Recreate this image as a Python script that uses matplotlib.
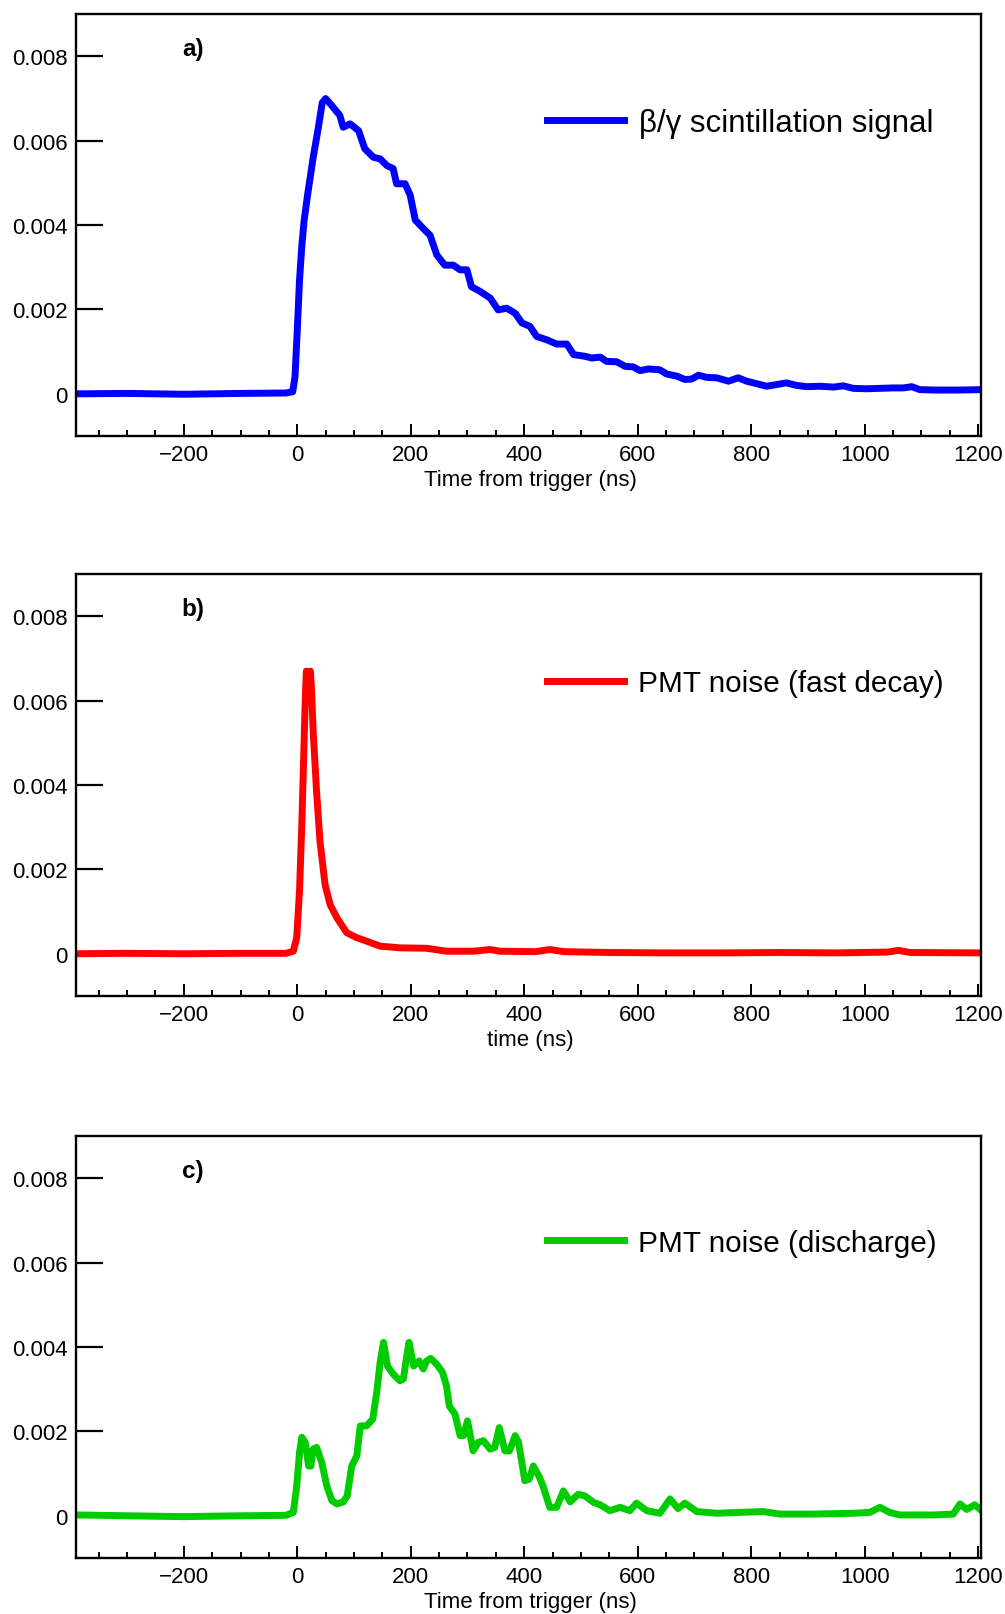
"""Three-panel waveform comparison: scintillation signal vs PMT noise."""

import matplotlib
matplotlib.use("Agg")
import matplotlib.pyplot as plt
from matplotlib.ticker import FuncFormatter, MultipleLocator

plt.rcParams["font.family"] = ["Liberation Sans", "DejaVu Sans"]

# panel a) beta/gamma scintillation signal (time in ns, amplitude)
t_beta = [-390, -300, -200, -100, -20, -8, -4, 0, 4, 8, 12, 18, 28, 37, 44, 50,
          61, 75, 81, 93, 108, 119, 134, 146, 158, 169, 175, 190, 199, 208, 222,
          234, 246, 260, 275, 287, 299, 307, 322, 340, 354, 369, 384, 396, 410,
          422, 440, 457, 475, 487, 507, 519, 534, 545, 563, 578, 592, 604, 619,
          639, 651, 669, 683, 695, 707, 722, 739, 760, 777, 792, 810, 827, 845,
          862, 880, 898, 921, 945, 962, 980, 1003, 1027, 1050, 1068, 1083, 1097,
          1121, 1144, 1168, 1205]
v_beta = [0.0, 0.00001, -0.00001, 0.00001, 0.00002, 0.00005, 0.0004, 0.0015,
          0.0027, 0.0035, 0.0041, 0.0047, 0.0056, 0.0063, 0.0069, 0.0070,
          0.00683, 0.0066, 0.00632, 0.0064, 0.00624, 0.00581, 0.00561, 0.00557,
          0.00541, 0.00534, 0.00498, 0.00498, 0.00471, 0.00412, 0.00392,
          0.00376, 0.00329, 0.00305, 0.00305, 0.00294, 0.00294, 0.00254,
          0.00243, 0.00227, 0.00199, 0.00203, 0.00191, 0.00168, 0.0016,
          0.00136, 0.00128, 0.00118, 0.00118, 0.00093, 0.00089, 0.00085,
          0.00087, 0.00077, 0.00076, 0.00065, 0.00064, 0.00055, 0.00059,
          0.00057, 0.00047, 0.00042, 0.00034, 0.00035, 0.00044, 0.00039,
          0.00038, 0.0003, 0.00038, 0.0003, 0.00024, 0.00018, 0.00022, 0.00026,
          0.0002, 0.00017, 0.00018, 0.00016, 0.00019, 0.00013, 0.00012,
          0.00013, 0.00014, 0.00014, 0.00017, 0.0001, 0.00009, 0.00009,
          0.00009, 0.0001]

# panel b) PMT noise, fast decay
t_fast = [-390, -300, -200, -100, -20, -7, -1, 4, 8, 11, 14, 16, 19.5, 23, 25,
          28, 34, 40, 49, 58, 70, 87, 105, 122, 146, 181, 228, 263, 310, 340,
          357, 420, 445, 470, 550, 650, 750, 850, 950, 1040, 1060, 1080, 1205]
v_fast = [0.0, 0.00001, 0.0, 0.00001, 0.00001, 0.00006, 0.00038, 0.0015,
          0.00306, 0.0045, 0.006, 0.0067, 0.0061, 0.0067, 0.0063, 0.00528,
          0.00385, 0.00267, 0.00164, 0.00116, 0.00085, 0.0005, 0.00038, 0.0003,
          0.00018, 0.00014, 0.00013, 0.00006, 0.00006, 0.0001, 0.00006,
          0.00005, 0.0001, 0.00005, 0.00003, 0.00002, 0.00002, 0.00003,
          0.00002, 0.00004, 0.00008, 0.00003, 0.00002]

# panel c) PMT noise, discharge
t_dis = [-390, -300, -200, -100, -20, -7, -1, 4, 8, 14, 20, 24, 28, 34, 43, 52,
         61, 70, 81, 88, 96, 105, 111, 122, 133, 140, 146, 152, 159, 169, 181,
         187, 193, 197, 205, 215, 222, 228, 235, 246, 256, 263, 268, 278, 287,
         293, 300, 310, 319, 328, 340, 348, 356, 366, 374, 384, 390, 401, 409,
         416, 427, 434, 445, 457, 469, 481, 495, 507, 522, 534, 551, 569, 586,
         598, 616, 639, 657, 671, 683, 704, 739, 780, 821, 851, 909, 980, 1009,
         1027, 1044, 1062, 1121, 1156, 1168, 1180, 1194, 1206]
v_dis = [0.00002, 0.0, -0.00002, 0.0, 0.00001, 0.00008, 0.0007, 0.0015,
         0.00186, 0.00174, 0.00118, 0.00118, 0.00158, 0.00162, 0.00127,
         0.00071, 0.00036, 0.00028, 0.00033, 0.00047, 0.00118, 0.00142,
         0.00213, 0.00213, 0.00229, 0.00292, 0.00363, 0.00411, 0.00355,
         0.00336, 0.0032, 0.00324, 0.00379, 0.00411, 0.00355, 0.00367, 0.00348,
         0.00367, 0.00373, 0.00359, 0.0034, 0.00308, 0.0026, 0.00241, 0.0019,
         0.0019, 0.00225, 0.00154, 0.00174, 0.00178, 0.00158, 0.00162, 0.00209,
         0.00154, 0.00154, 0.0019, 0.00174, 0.00083, 0.00087, 0.00118, 0.00091,
         0.00067, 0.0002, 0.0002, 0.00059, 0.00033, 0.00051, 0.00047, 0.00032,
         0.00026, 0.00012, 0.0002, 0.00012, 0.0003, 0.00012, 0.00006, 0.0004,
         0.00017, 0.0003, 0.0001, 0.00006, 0.00008, 0.0001, 0.00004, 0.00004,
         0.00006, 0.00008, 0.0002, 0.00008, 0.00002, 0.00002, 0.00004, 0.00028,
         0.00015, 0.00026, 0.00012]

panels = [
    ("a)", t_beta, v_beta, "#0000ff", "β/γ scintillation signal", 22.5, 0.742,
     "Time from trigger (ns)"),
    ("b)", t_fast, v_fast, "#ff0000", "PMT noise (fast decay)", 21.4, 0.741,
     "time (ns)"),
    ("c)", t_dis, v_dis, "#00cc00", "PMT noise (discharge)", 21.4, 0.747,
     "Time from trigger (ns)"),
]
bottoms = [0.7294, 0.3827, 0.0347]

fig = plt.figure(figsize=(10.05, 16.15), dpi=100)

for (tag, t, v, color, label, lsize, ly, xlabel), bottom in zip(panels, bottoms):
    ax = fig.add_axes([0.0756, bottom, 0.9005, 0.2612])
    line, = ax.plot(t, v, color=color, linewidth=5.0, label=label,
                    solid_joinstyle="round")
    ax.set_xlim(-390, 1205)
    ax.set_ylim(-0.001, 0.009)

    ax.xaxis.set_major_locator(MultipleLocator(200))
    ax.xaxis.set_minor_locator(MultipleLocator(50))
    ax.yaxis.set_major_locator(MultipleLocator(0.002))
    ax.yaxis.set_major_formatter(
        FuncFormatter(lambda y, _: "0" if abs(y) < 1e-9 else f"{y:.3f}"))

    ax.tick_params(axis="x", which="major", direction="in", length=8.8,
                   width=1.4, labelsize=16, pad=6)
    ax.tick_params(axis="x", which="minor", direction="in", length=4.2,
                   width=1.4)
    ax.tick_params(axis="y", which="major", direction="in", length=19.5,
                   width=1.6, labelsize=16, pad=6)
    for sp in ax.spines.values():
        sp.set_linewidth(1.7)

    ax.set_xlabel(xlabel, fontsize=16)
    ax.xaxis.label.set_va("center")
    ax.xaxis.set_label_coords(0.502, -0.103)

    ax.text(0.129, 0.918, tag, transform=ax.transAxes, fontsize=17.5,
            fontweight="bold", ha="center", va="center")

    ax.legend(handles=[line], loc="center left", bbox_to_anchor=(0.52, ly),
              frameon=False, fontsize=lsize, borderpad=0, borderaxespad=0,
              handlelength=77 / (lsize * 100 / 72), handletextpad=0.5)

fig.savefig("out.png", dpi=100)
